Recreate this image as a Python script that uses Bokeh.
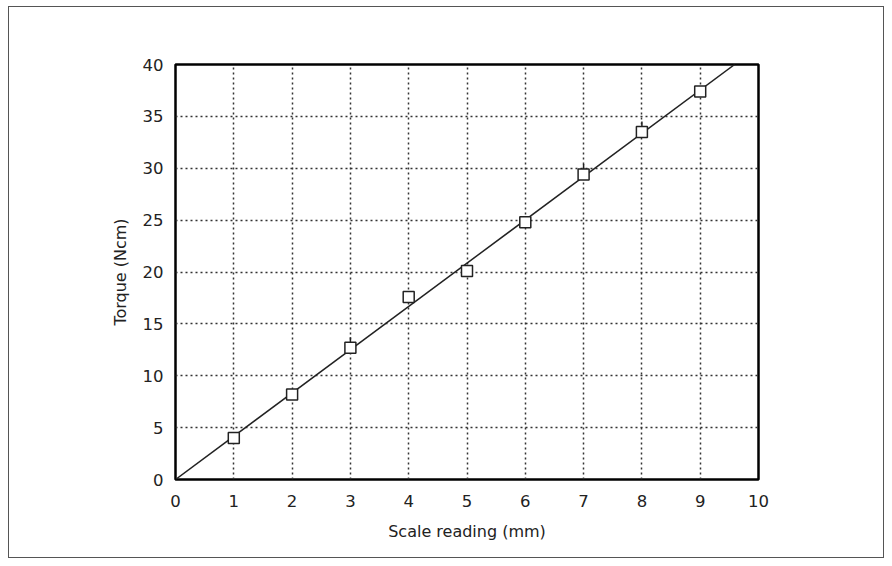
import numpy as np
from bokeh.plotting import figure
from bokeh.models import Range1d, FixedTicker
from bokeh.embed import file_html
from bokeh.resources import INLINE

# Data
scale_mm = [1, 2, 3, 4, 5, 6, 7, 8, 9]
torque_ncm = [4.0, 8.2, 12.7, 17.6, 20.1, 24.8, 29.4, 33.5, 37.4]
err_up = [0.0, 0.0, 1.0, 0.0, 0.0, 0.0, 1.0, 1.0, 0.0]
x_ticks = [0, 1, 2, 3, 4, 5, 6, 7, 8, 9, 10]
y_ticks = [0, 5, 10, 15, 20, 25, 30, 35, 40]

FONT = "DejaVu Sans"

p = figure(width=876, height=552, output_backend="svg", toolbar_location=None,
           x_range=Range1d(0, 10), y_range=Range1d(0, 40),
           min_border_left=166, min_border_right=127,
           min_border_top=57, min_border_bottom=80)
p.styles = {"border": "1.5px solid #555555", "box-sizing": "border-box",
            "margin-left": "8px", "margin-top": "6px"}

p.outline_line_color = "black"
p.outline_line_width = 2.5
p.background_fill_color = "white"
p.border_fill_color = "white"

for ax in (p.xaxis, p.yaxis):
    ax.axis_line_color = None
    ax.major_tick_line_color = None
    ax.minor_tick_line_color = None
    ax.major_label_text_font = FONT
    ax.major_label_text_font_size = "16.5px"
    ax.major_label_text_color = "#222222"
    ax.axis_label_text_font = FONT
    ax.axis_label_text_font_size = "16px"
    ax.axis_label_text_font_style = "normal"
    ax.axis_label_text_color = "#222222"

p.xaxis.ticker = FixedTicker(ticks=x_ticks)
p.yaxis.ticker = FixedTicker(ticks=y_ticks)
p.xaxis.axis_label = "Scale reading (mm)"
p.yaxis.axis_label = "Torque (Ncm)"
p.xaxis.major_label_standoff = 9
p.yaxis.major_label_standoff = 6
p.xaxis.axis_label_standoff = 12
p.yaxis.axis_label_standoff = 10

p.grid.grid_line_color = "#333333"
p.grid.grid_line_dash = "2 3"
p.grid.grid_line_width = 1.5

# least-squares line through origin
xs = np.array(scale_mm, dtype=float)
ys = np.array(torque_ncm, dtype=float)
slope = float((xs * ys).sum() / (xs * xs).sum())
x_end = 40.0 / slope
p.line([0, x_end], [0, slope * x_end], line_color="#222222", line_width=1.5)

# small upper error whiskers
for xv, yv, e in zip(scale_mm, torque_ncm, err_up):
    if e > 0:
        p.segment(x0=[xv], y0=[yv], x1=[xv], y1=[yv + e], line_color="#222222", line_width=1.5)

p.scatter(scale_mm, torque_ncm, marker="square", size=11, fill_color="white",
          line_color="#222222", line_width=1.5)

open("out.html", "w").write(file_html(p, INLINE))
